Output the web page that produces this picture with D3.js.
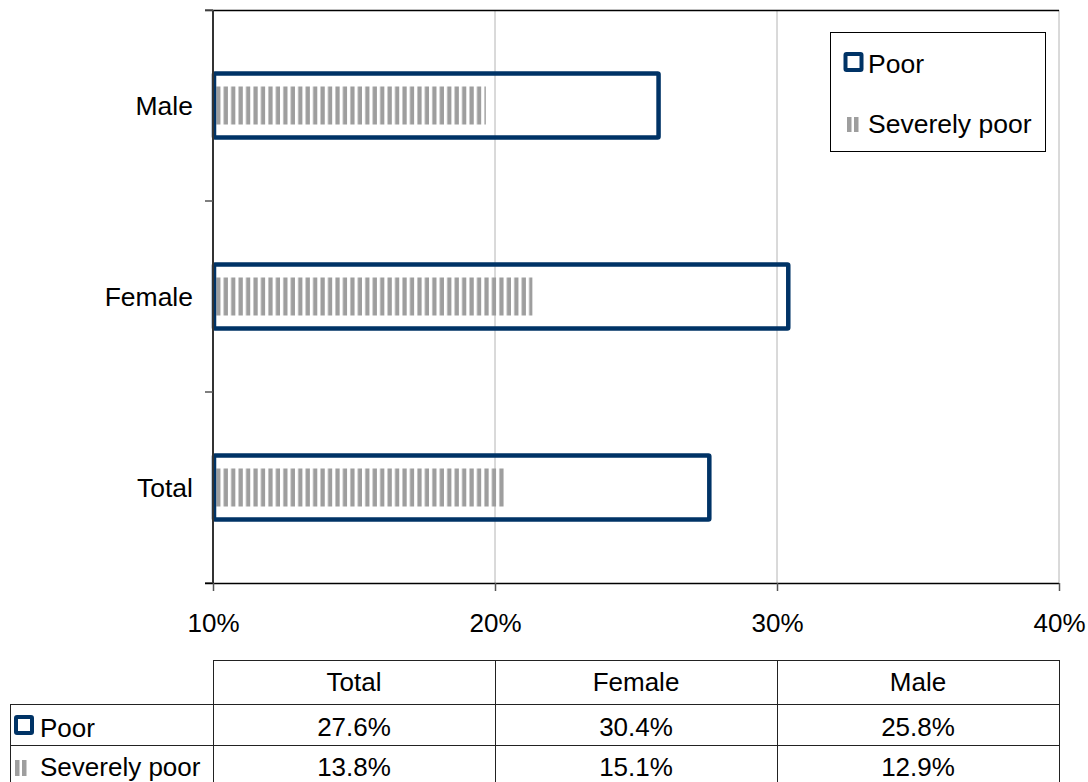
<!DOCTYPE html>
<html><head><meta charset="utf-8">
<script src="https://cdn.jsdelivr.net/npm/d3@7"></script>
<style>body{margin:0;background:#fff}svg{display:block}text{font-family:"Liberation Sans",Arial,sans-serif;fill:#000}</style>
</head><body><svg id="c" width="1088" height="782"></svg>
<script>
const categories = ["Total", "Female", "Male"];
const poor = [27.6, 30.4, 25.8];
const severelyPoor = [13.8, 15.1, 12.9];
const xTicks = [10, 20, 30, 40];
const seriesNames = ["Poor", "Severely poor"];

const svg = d3.select("#c");
const L = 213, R = 1059, T = 10, B = 583;
const navy = "#003366", gray = "#9e9e9e";

const x = d3.scaleLinear().domain([10, 40]).range([L, R]);
const x2 = d3.scaleLinear().domain([0, 40]).range([L, R]); // secondary (hidden) axis
const catsTopDown = categories.slice().reverse();
const y = d3.scaleBand().domain(catsTopDown).range([T, B]).paddingInner(0.665).paddingOuter(0.3325);
const step = y.step();

// pattern
const defs = svg.append("defs");
const pat = defs.append("pattern").attr("id", "stripes").attr("patternUnits", "userSpaceOnUse")
  .attr("x", L).attr("y", 0).attr("width", 7.45).attr("height", 10);
pat.append("rect").attr("x", 3.2).attr("y", 0).attr("width", 4.4).attr("height", 10).attr("fill", gray);

// gridlines
svg.append("g").selectAll("line").data(xTicks.slice(1)).join("line")
  .attr("x1", d => x(d)).attr("x2", d => x(d)).attr("y1", T).attr("y2", B)
  .attr("stroke", "#b4b4b4").attr("stroke-width", 1);

// top border
svg.append("line").attr("x1", L - 8).attr("x2", R).attr("y1", T + 0.5).attr("y2", T + 0.5).attr("stroke", "#000").attr("stroke-width", 1.5);

// severely poor bars (secondary scale)
const sh = 38;
svg.append("g").selectAll("rect").data(categories).join("rect")
  .attr("x", L).attr("width", (d, i) => x2(severelyPoor[i]) - L)
  .attr("y", d => y(d) + y.bandwidth() / 2 - sh / 2).attr("height", sh)
  .attr("fill", "url(#stripes)");

// poor bars
svg.append("g").selectAll("rect").data(categories).join("rect")
  .attr("x", L + 1).attr("width", (d, i) => x(poor[i]) - L - 1)
  .attr("y", d => y(d)).attr("height", y.bandwidth())
  .attr("fill", "none").attr("stroke", navy).attr("stroke-width", 4.5).attr("rx", 1);

// y axis
svg.append("line").attr("x1", L).attr("x2", L).attr("y1", T).attr("y2", B).attr("stroke", "#333").attr("stroke-width", 2);
const bounds = d3.range(categories.length + 1).map(i => T + i * step);
svg.append("g").selectAll("line").data(bounds).join("line")
  .attr("x1", L - 8).attr("x2", L).attr("y1", d => d).attr("y2", d => d).attr("stroke", "#555").attr("stroke-width", 1.5);
svg.append("g").selectAll("text").data(categories).join("text")
  .attr("x", 193).attr("y", d => y(d) + y.bandwidth() / 2 + 9.5)
  .attr("text-anchor", "end").attr("font-size", 26.5).text(d => d);

// x axis
const xa = svg.append("g").attr("transform", `translate(0,${B})`)
  .call(d3.axisBottom(x).tickValues(xTicks).tickSize(8).tickFormat(d => d + "%"));
xa.select(".domain").attr("stroke", "#000").attr("stroke-width", 1.5).attr("d", `M${L - 8},0.5H${R}`);
xa.selectAll(".tick line").attr("stroke", "#555").attr("stroke-width", 1.5);
xa.selectAll(".tick text").attr("font-size", 26).attr("font-family", "Liberation Sans, Arial, sans-serif").attr("dy", null).attr("y", 49);

// legend
const lg = svg.append("g");
lg.append("rect").attr("x", 830.5).attr("y", 32.5).attr("width", 215).attr("height", 119).attr("fill", "#fff").attr("stroke", "#000").attr("stroke-width", 1);
lg.append("rect").attr("x", 845.5).attr("y", 54).attr("width", 16).attr("height", 16).attr("fill", "none").attr("stroke", navy).attr("stroke-width", 4).attr("rx", 1);
lg.append("text").attr("x", 868).attr("y", 73).attr("font-size", 26.5).text(seriesNames[0]);
[847, 854].forEach(px => lg.append("rect").attr("x", px).attr("y", 117).attr("width", 4.5).attr("height", 15).attr("fill", gray));
lg.append("text").attr("x", 868).attr("y", 133).attr("font-size", 26.5).text(seriesNames[1]);

// data table
const tb = svg.append("g");
const colX = [L, x(20), x(30), R];
const rowY = [660, 704, 745, 790];
const ln = (x1, y1, x2_, y2) => tb.append("line").attr("x1", x1).attr("y1", y1).attr("x2", x2_).attr("y2", y2).attr("stroke", "#222").attr("stroke-width", 1);
ln(L, rowY[0] + 0.5, R, rowY[0] + 0.5);
ln(10, rowY[1] + 0.5, R, rowY[1] + 0.5);
ln(10, rowY[2] + 0.5, R, rowY[2] + 0.5);
ln(10.5, rowY[1], 10.5, 782);
colX.forEach(cx => ln(Math.round(cx) + 0.5, rowY[0], Math.round(cx) + 0.5, 782));
const colCenters = [0, 1, 2].map(i => (colX[i] + colX[i + 1]) / 2);
tb.selectAll("text.h").data(categories).join("text").attr("class", "h")
  .attr("x", (d, i) => colCenters[i]).attr("y", 691).attr("text-anchor", "middle").attr("font-size", 26).text(d => d);
tb.selectAll("text.p").data(poor).join("text").attr("class", "p")
  .attr("x", (d, i) => colCenters[i]).attr("y", 736).attr("text-anchor", "middle").attr("font-size", 26).text(d => d.toFixed(1) + "%");
tb.selectAll("text.s").data(severelyPoor).join("text").attr("class", "s")
  .attr("x", (d, i) => colCenters[i]).attr("y", 776).attr("text-anchor", "middle").attr("font-size", 26).text(d => d.toFixed(1) + "%");
tb.append("rect").attr("x", 16).attr("y", 717).attr("width", 16).attr("height", 16).attr("fill", "none").attr("stroke", navy).attr("stroke-width", 4).attr("rx", 1);
tb.append("text").attr("x", 40).attr("y", 737).attr("font-size", 26).text(seriesNames[0]);
[15, 22].forEach(px => tb.append("rect").attr("x", px).attr("y", 760).attr("width", 4.5).attr("height", 16).attr("fill", gray));
tb.append("text").attr("x", 40).attr("y", 776).attr("font-size", 26).text(seriesNames[1]);
</script></body></html>
